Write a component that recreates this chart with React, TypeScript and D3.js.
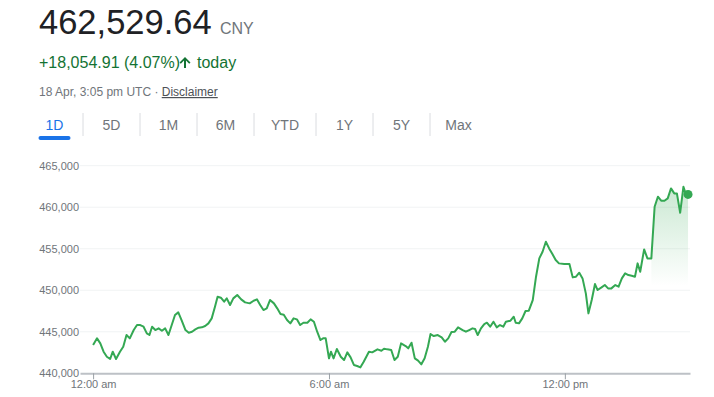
import * as d3 from "d3";
import { useEffect, useRef } from "react";

// minutes after 00:00 UTC, 18 Apr
const times = [
  0, 6, 11, 16, 21, 26, 30, 35, 41, 46,
  51, 56, 62, 67, 72, 77, 82, 86, 90, 95,
  100, 105, 110, 115, 120, 125, 130, 135, 141, 146,
  151, 156, 161, 166, 171, 176, 181, 186, 190, 195,
  200, 204, 209, 214, 220, 226, 232, 239, 245, 250,
  255, 260, 265, 270, 276, 281, 286, 291, 296, 301,
  306, 311, 316, 321, 327, 332, 337, 342, 347, 351,
  355, 360, 363, 367, 372, 378, 383, 388, 393, 398,
  403, 408, 413, 421, 426, 434, 440, 444, 449, 455,
  460, 465, 470, 477, 481, 486, 491, 496, 501, 506,
  511, 515, 520, 526, 532, 537, 542, 547, 552, 557,
  564, 569, 574, 579, 583, 587, 592, 597, 601, 606,
  611, 616, 621, 626, 630, 637, 642, 645, 650, 655,
  660, 665, 671, 676, 681, 686, 691, 696, 701, 706,
  711, 719, 727, 732, 737, 742, 747, 752, 756, 761,
  766, 770, 776, 781, 786, 791, 797, 802, 807, 812,
  817, 822, 827, 831, 835, 841, 846, 852, 857, 862,
  867, 872, 877, 882, 887, 891, 896, 901, 904, 908,
];

const prices = [
  443405, 444208, 443606, 442602, 442000, 441719, 442602, 441719, 442602, 443204,
  444609, 444208, 445211, 445812, 445812, 445611, 444810, 444609, 445611, 445211,
  445412, 445130, 445412, 444609, 445812, 447017, 447338, 446415, 445211, 444890,
  445010, 445291, 445492, 445532, 445692, 446013, 446615, 448020, 449224, 449104,
  448622, 449023, 448221, 449023, 449425, 448903, 448542, 448421, 448742, 448903,
  448221, 447619, 447819, 448823, 448421, 447819, 447137, 447057, 446415, 446013,
  446615, 446495, 445812, 446093, 446093, 446495, 446214, 445010, 444007, 444208,
  444208, 441800, 442602, 441800, 442923, 442000, 441599, 442522, 441920, 441003,
  440877, 440716, 441399, 442602, 442522, 442883, 442723, 442963, 442883, 442803,
  441599, 442000, 443605, 443284, 443004, 443686, 441800, 441519, 441078, 441800,
  443204, 444729, 444488, 444609, 444328, 443806, 444208, 444970, 445010, 445532,
  445211, 445010, 445211, 445412, 445332, 444609, 445412, 445933, 446093, 445611,
  446214, 445532, 445812, 445611, 446214, 446335, 446816, 446093, 446013, 446615,
  447499, 447539, 448823, 451632, 453839, 454642, 455845, 455043, 454360, 453638,
  453237, 453156, 453156, 451551, 451632, 452113, 451431, 449625, 447217, 448823,
  450749, 450026, 450347, 450628, 450227, 450227, 450628, 450428, 451431, 452033,
  451832, 451752, 451632, 453237, 452234, 454922, 453839, 453839, 460060, 461263,
  460781, 460781, 461062, 462266, 461664, 461664, 459337, 462467, 461744, 461544,
];

const yTicks = [440000, 445000, 450000, 455000, 460000, 465000];
const ranges = ["1D", "5D", "1M", "6M", "YTD", "1Y", "5Y", "Max"];
const lastPrice = "462,529.64";
const currency = "CNY";
const change = "+18,054.91 (4.07%)";
const stamp = "18 Apr, 3:05 pm UTC · ";
const fillFrom = 852; // minute where the shaded part starts

const FONT = "'Liberation Sans', Arial, sans-serif";
const GREEN = "#34a853";

const App = () => {
  const ref = useRef<SVGSVGElement>(null);

  useEffect(() => {
    const svg = d3.select(ref.current);
    svg.selectAll("*").remove();

    const day = Date.UTC(2024, 3, 18);
    const toDate = (m: number) => new Date(day + m * 60000);
    const data = times.map((t, i) => ({ date: toDate(t), value: prices[i] }));

    // header
    svg.append("text").attr("x", 39).attr("y", 34).attr("font-size", 34.5)
      .attr("fill", "#202124").text(lastPrice);
    svg.append("text").attr("x", 220).attr("y", 34).attr("font-size", 16)
      .attr("fill", "#70757a").text(currency);

    svg.append("text").attr("x", 39).attr("y", 68).attr("font-size", 16)
      .attr("fill", "#137333").text(change);
    // up arrow icon
    svg.append("path")
      .attr("d", "M185 57 L190.5 62.5 L189.2 63.8 L186 60.6 L186 68 L184 68 L184 60.6 L180.8 63.8 L179.5 62.5 Z")
      .attr("fill", "#137333");
    svg.append("text").attr("x", 197).attr("y", 68).attr("font-size", 16)
      .attr("fill", "#137333").text("today");

    const st = svg.append("text").attr("x", 39).attr("y", 96).attr("font-size", 12)
      .attr("fill", "#70757a");
    st.append("tspan").text(stamp);
    st.append("tspan").attr("fill", "#4d5156").attr("text-decoration", "underline").text("Disclaimer");

    // range tabs
    const widths = ranges.map((r) => (r === "YTD" ? 62 : 57));
    let cx = 26;
    ranges.forEach((r, i) => {
      const w = widths[i];
      svg.append("text").attr("x", cx + w / 2).attr("y", 130).attr("text-anchor", "middle")
        .attr("font-size", 14).attr("fill", i === 0 ? "#1a73e8" : "#70757a").text(r);
      if (i === 0) {
        svg.append("rect").attr("x", cx + w / 2 - 16).attr("y", 136).attr("width", 32)
          .attr("height", 4).attr("rx", 2).attr("fill", "#1a73e8");
      }
      cx += w;
      if (i < ranges.length - 1) {
        svg.append("line").attr("x1", cx).attr("x2", cx).attr("y1", 113).attr("y2", 136)
          .attr("stroke", "#dadce0");
      }
    });

    // chart
    const x = d3.scaleUtc()
      .domain([toDate(-20), toDate(911)])
      .range([80, 690]);
    const y = d3.scaleLinear()
      .domain([440000, 465000])
      .range([373.3, 165.7]);

    svg.append("g").selectAll("line").data(yTicks.slice(1)).join("line")
      .attr("x1", 80).attr("x2", 690)
      .attr("y1", (d) => y(d)).attr("y2", (d) => y(d))
      .attr("stroke", "#f1f3f4");

    svg.append("g").selectAll("text").data(yTicks).join("text")
      .attr("x", 79).attr("y", (d) => y(d)).attr("dy", "0.35em")
      .attr("text-anchor", "end").attr("font-size", 11).attr("fill", "#70757a")
      .text((d) => d3.format(",")(d));

    const xAxis = d3.axisBottom(x)
      .ticks(d3.utcHour.every(6))
      .tickSizeInner(6)
      .tickSizeOuter(0)
      .tickFormat((d) => d3.utcFormat("%-I:%M %p")(d as Date).toLowerCase());
    const gx = svg.append("g").attr("transform", `translate(0,${y(440000)})`).call(xAxis);
    gx.select(".domain").attr("stroke", "#bdc1c6").attr("stroke-width", 2);
    gx.selectAll(".tick line").attr("stroke", "#9aa0a6");
    gx.selectAll(".tick text").attr("font-size", 11).attr("fill", "#70757a")
      .attr("font-family", FONT).attr("dy", "0.55em");

    // shaded part under the last run
    const defs = svg.append("defs");
    const grad = defs.append("linearGradient").attr("id", "fade")
      .attr("gradientUnits", "userSpaceOnUse")
      .attr("x1", 0).attr("x2", 0).attr("y1", y(462000)).attr("y2", y(450500));
    grad.append("stop").attr("offset", 0).attr("stop-color", GREEN).attr("stop-opacity", 0.25);
    grad.append("stop").attr("offset", 1).attr("stop-color", GREEN).attr("stop-opacity", 0);

    const area = d3.area<{ date: Date; value: number }>()
      .x((d) => x(d.date)).y0(y(440000)).y1((d) => y(d.value));
    svg.append("path")
      .datum(data.filter((d) => d.date >= toDate(fillFrom)))
      .attr("d", area).attr("fill", "url(#fade)");

    const line = d3.line<{ date: Date; value: number }>()
      .x((d) => x(d.date)).y((d) => y(d.value));
    svg.append("path").datum(data).attr("d", line)
      .attr("fill", "none").attr("stroke", GREEN).attr("stroke-width", 2)
      .attr("stroke-linejoin", "round");

    const last = data[data.length - 1];
    svg.append("circle").attr("cx", x(last.date)).attr("cy", y(last.value))
      .attr("r", 4.5).attr("fill", GREEN);
  }, []);

  return (
    <svg
      ref={ref}
      width={714}
      height={397}
      style={{ position: "absolute", left: 0, top: 0, background: "#fff" }}
      fontFamily={FONT}
    />
  );
};

export default App;
